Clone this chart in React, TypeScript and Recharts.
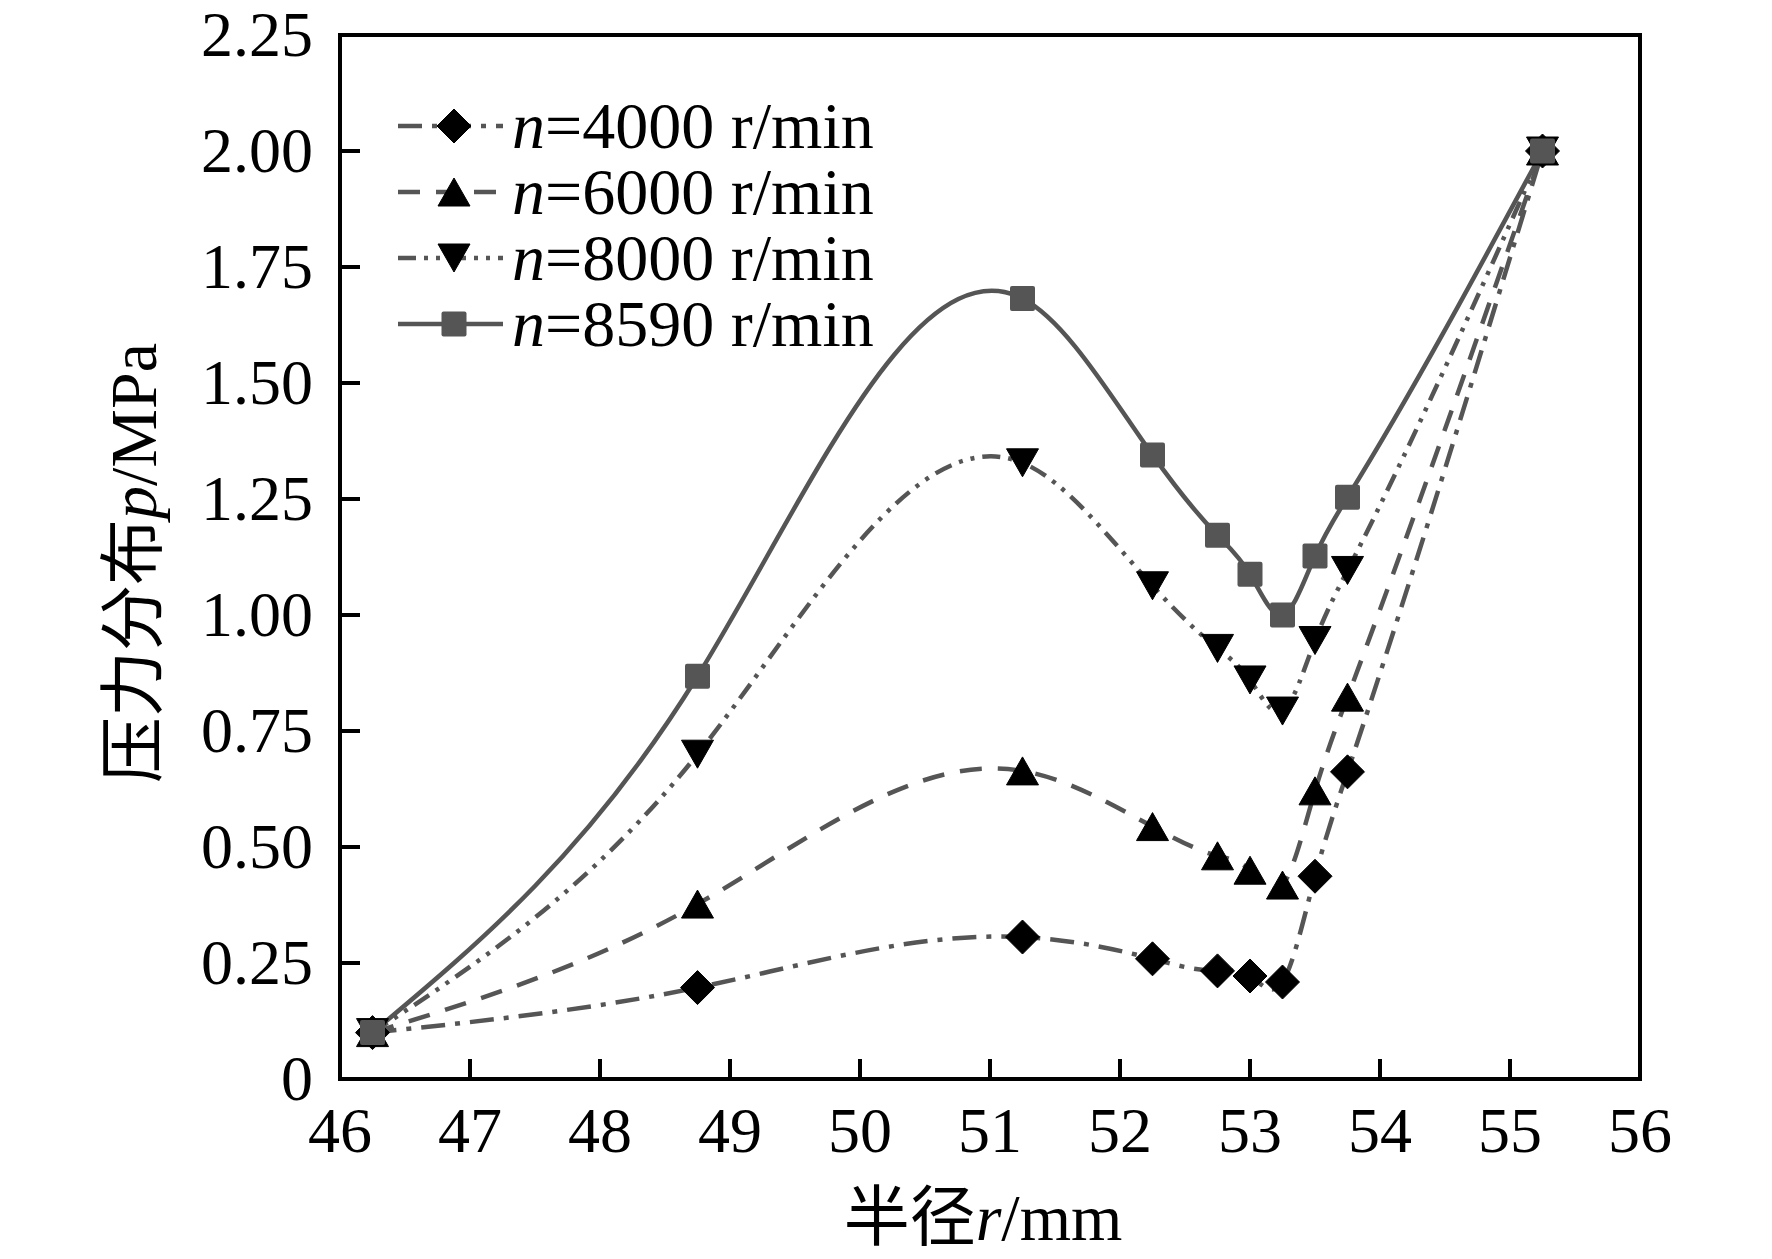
import React from "react";
import { Label, Legend, Line, LineChart, ReferenceArea, XAxis, YAxis } from "recharts";

// radius (mm) sampled by all four runs
const radius = [46.25, 48.75, 51.25, 52.25, 52.75, 53.0, 53.25, 53.5, 53.75, 55.25];

// pressure p (MPa) per rotational speed
const p4000 = [0.1, 0.197, 0.306, 0.259, 0.233, 0.222, 0.209, 0.437, 0.662, 2.0];
const p6000 = [0.1, 0.377, 0.664, 0.544, 0.481, 0.45, 0.418, 0.621, 0.823, 2.0];
const p8000 = [0.1, 0.7, 1.328, 1.063, 0.928, 0.86, 0.793, 0.945, 1.096, 2.0];
const p8590 = [0.1, 0.868, 1.682, 1.345, 1.172, 1.088, 1.0, 1.127, 1.254, 2.0];

const xTicks = [46, 47, 48, 49, 50, 51, 52, 53, 54, 55, 56];
const yTicks = [0, 0.25, 0.5, 0.75, 1.0, 1.25, 1.5, 1.75, 2.0, 2.25];

type MarkerKind = "diamond" | "triangle" | "triangleDown" | "square";

type SeriesDef = {
  key: string;
  speed: string;
  values: number[];
  dash?: string;
  marker: MarkerKind;
};

const series: SeriesDef[] = [
  { key: "s4000", speed: "4000", values: p4000, dash: "24 10 5 10", marker: "diamond" },
  { key: "s6000", speed: "6000", values: p6000, dash: "22 16", marker: "triangle" },
  { key: "s8000", speed: "8000", values: p8000, dash: "18 8 4 8 4 8", marker: "triangleDown" },
  { key: "s8590", speed: "8590", values: p8590, marker: "square" },
];

const data = radius.map((r, i) => {
  const row: Record<string, number> = { r };
  series.forEach((s) => {
    row[s.key] = s.values[i];
  });
  return row;
});

const serif = "'Liberation Serif', 'Times New Roman', 'Noto Sans CJK SC', serif";
const lineGray = "#555555";

// natural cubic spline as a function of x (like Origin's spline connection)
function splineX(context: any) {
  let xs: number[] = [];
  let ys: number[] = [];
  return {
    areaStart() {},
    areaEnd() {},
    lineStart() {
      xs = [];
      ys = [];
    },
    point(x: number, y: number) {
      xs.push(+x);
      ys.push(+y);
    },
    lineEnd() {
      const n = xs.length;
      if (!n) return;
      context.moveTo(xs[0], ys[0]);
      if (n < 3) {
        for (let i = 1; i < n; i++) context.lineTo(xs[i], ys[i]);
        return;
      }
      const h: number[] = [];
      for (let i = 0; i < n - 1; i++) h[i] = xs[i + 1] - xs[i];
      const M = new Array(n).fill(0);
      const a: number[] = [];
      const b: number[] = [];
      const c: number[] = [];
      const d: number[] = [];
      for (let i = 1; i < n - 1; i++) {
        a[i] = h[i - 1];
        b[i] = 2 * (h[i - 1] + h[i]);
        c[i] = h[i];
        d[i] = 6 * ((ys[i + 1] - ys[i]) / h[i] - (ys[i] - ys[i - 1]) / h[i - 1]);
      }
      for (let i = 2; i < n - 1; i++) {
        const w = a[i] / b[i - 1];
        b[i] -= w * c[i - 1];
        d[i] -= w * d[i - 1];
      }
      for (let i = n - 2; i >= 1; i--) {
        M[i] = (d[i] - c[i] * M[i + 1]) / b[i];
      }
      for (let i = 0; i < n - 1; i++) {
        const hi = h[i];
        const s = (ys[i + 1] - ys[i]) / hi;
        const m0 = s - (hi * (2 * M[i] + M[i + 1])) / 6;
        const m1 = s + (hi * (M[i] + 2 * M[i + 1])) / 6;
        context.bezierCurveTo(
          xs[i] + hi / 3,
          ys[i] + (m0 * hi) / 3,
          xs[i + 1] - hi / 3,
          ys[i + 1] - (m1 * hi) / 3,
          xs[i + 1],
          ys[i + 1]
        );
      }
    },
  };
}

function marker(kind: MarkerKind, cx: number, cy: number, key?: string) {
  if (kind === "diamond") {
    const r = 17;
    return (
      <polygon key={key} points={`${cx},${cy - r} ${cx + r},${cy} ${cx},${cy + r} ${cx - r},${cy}`} fill="#000" strokeLinejoin="round" stroke="#000" strokeWidth={1} />
    );
  }
  if (kind === "triangle") {
    return (
      <polygon key={key} points={`${cx},${cy - 14} ${cx + 16},${cy + 14} ${cx - 16},${cy + 14}`} fill="#000" stroke="#000" strokeLinejoin="round" strokeWidth={1} />
    );
  }
  if (kind === "triangleDown") {
    return (
      <polygon key={key} points={`${cx - 16},${cy - 14} ${cx + 16},${cy - 14} ${cx},${cy + 14}`} fill="#000" stroke="#000" strokeLinejoin="round" strokeWidth={1} />
    );
  }
  return <rect key={key} x={cx - 12.5} y={cy - 12.5} width={25} height={25} rx={2} fill={lineGray} />;
}

const XTick = (props: any) => {
  const { x, y, payload } = props;
  return (
    <g>
      <line x1={x} y1={y} x2={x} y2={y - 20} stroke="#000" strokeWidth={4} />
      <text x={x} y={y + 73} textAnchor="middle" fontFamily={serif} fontSize={64} fill="#000">
        {payload.value}
      </text>
    </g>
  );
};

const YTick = (props: any) => {
  const { x, y, payload } = props;
  const v = Number(payload.value);
  return (
    <g>
      <line x1={x} y1={y} x2={x + 20} y2={y} stroke="#000" strokeWidth={4} />
      <text x={x - 27} y={y + 21} textAnchor="end" fontFamily={serif} fontSize={64} fill="#000">
        {v === 0 ? "0" : v.toFixed(2)}
      </text>
    </g>
  );
};

const renderLegend = () => (
  <div style={{ fontFamily: serif, fontSize: 66, color: "#000" }}>
    {series.map((s) => (
      <div key={s.key} style={{ display: "flex", alignItems: "center", height: 66 }}>
        <svg width={114} height={66} style={{ display: "block" }}>
          <line x1={4} y1={33} x2={109} y2={33} stroke={lineGray} strokeWidth={4.5} strokeDasharray={s.dash} />
          {marker(s.marker, 60, 33)}
        </svg>
        <span style={{ marginLeft: 4, lineHeight: "66px", whiteSpace: "nowrap" }}>
          <i>n</i>={s.speed} r/min
        </span>
      </div>
    ))}
  </div>
);

export default function App() {
  return (
    <div style={{ position: "absolute", left: 0, top: 0, background: "#fff" }}>
      <LineChart width={1772} height={1259} data={data} margin={{ top: 35, right: 132, left: 240, bottom: 80 }}>
        <XAxis
          dataKey="r"
          type="number"
          domain={[46, 56]}
          ticks={xTicks}
          interval={0}
          height={100}
          axisLine={false}
          tickLine={false}
          tickSize={0}
          tickMargin={0}
          tick={<XTick />}
        >
          <Label
            content={() => (
              <text x={983} y={1240} textAnchor="middle" fontFamily={serif} fontSize={66} fill="#000">
                半径<tspan fontStyle="italic">r</tspan>/mm
              </text>
            )}
          />
        </XAxis>
        <YAxis
          type="number"
          domain={[0, 2.25]}
          ticks={yTicks}
          interval={0}
          width={100}
          axisLine={false}
          tickLine={false}
          tickSize={0}
          tickMargin={0}
          tick={<YTick />}
        >
          <Label
            content={() => (
              <text
                x={133}
                y={563}
                transform="rotate(-90, 133, 563)"
                textAnchor="middle"
                dominantBaseline="central"
                fontFamily={serif}
                fontSize={66}
                fill="#000"
              >
                压力分布<tspan fontStyle="italic">p</tspan>/MPa
              </text>
            )}
          />
        </YAxis>
        <ReferenceArea x1={46} x2={56} y1={0} y2={2.25} fill="none" fillOpacity={0} stroke="#000" strokeWidth={4} />
        <Legend
          layout="vertical"
          align="center"
          verticalAlign="middle"
          content={renderLegend}
          wrapperStyle={{ left: 394, top: 93, width: "auto", height: "auto" }}
        />
        {series.map((s) => (
          <Line
            key={s.key}
            dataKey={s.key}
            type={splineX as any}
            stroke={lineGray}
            strokeWidth={4.5}
            strokeDasharray={s.dash}
            isAnimationActive={false}
            dot={(p: any) => marker(s.marker, p.cx, p.cy, `${s.key}-${p.index}`)}
            activeDot={false}
          />
        ))}
      </LineChart>
    </div>
  );
}
